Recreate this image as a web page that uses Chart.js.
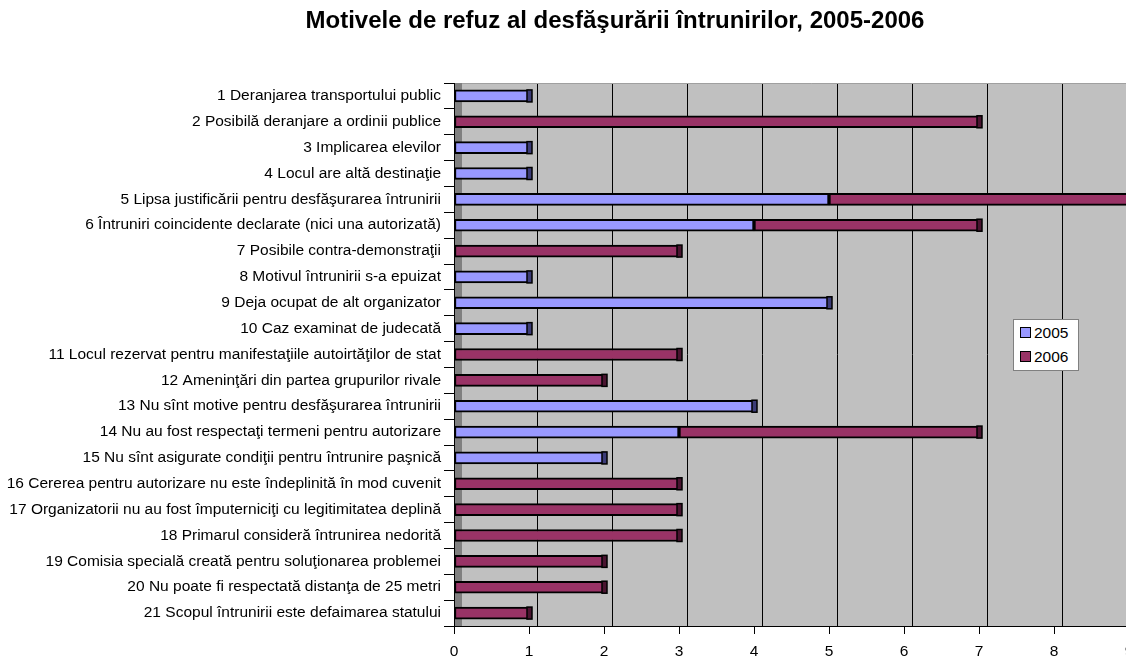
<!DOCTYPE html>
<html>
<head>
<meta charset="utf-8">
<script src="https://cdn.jsdelivr.net/npm/chart.js@4/dist/chart.umd.min.js"></script>
<style>
html,body{margin:0;padding:0;background:#fff;overflow:hidden;width:1126px;height:657px;}
#wrap{position:relative;width:1160px;height:657px;}
#title{position:absolute;left:0;width:1230px;top:6px;text-align:center;font:bold 24px "Liberation Sans",Arial,sans-serif;line-height:28px;color:#000;white-space:nowrap;}
#legend{position:absolute;left:1013px;top:319px;width:64px;height:50px;border:1px solid #808080;background:#fff;font:15.5px "Liberation Sans",Arial,sans-serif;color:#000;}
.item{position:absolute;left:6px;height:18px;line-height:18px;white-space:nowrap;}
.sw{display:inline-block;width:9px;height:9px;border:1px solid #000;vertical-align:middle;margin-right:3px;position:relative;top:-1px;}
canvas{position:absolute;left:0;top:0;}
</style>
</head>
<body>
<div id="wrap">
<canvas id="c" width="1160" height="657"></canvas>
<div id="title">Motivele de refuz al desfăşurării întrunirilor, 2005-2006</div>
<div id="legend"></div>
</div>
<script>
const categories = [
  "1 Deranjarea transportului public",
  "2 Posibilă deranjare a ordinii publice",
  "3 Implicarea elevilor",
  "4 Locul are altă destinaţie",
  "5 Lipsa justificării pentru desfăşurarea întrunirii",
  "6 Întruniri coincidente declarate (nici una autorizată)",
  "7 Posibile contra-demonstraţii",
  "8 Motivul întrunirii s-a epuizat",
  "9 Deja ocupat de alt organizator",
  "10 Caz examinat de judecată",
  "11 Locul rezervat pentru manifestaţiile autoirtăţilor de stat",
  "12 Ameninţări din partea grupurilor rivale",
  "13 Nu sînt motive pentru desfăşurarea întrunirii",
  "14 Nu au fost respectaţi termeni pentru autorizare",
  "15 Nu sînt asigurate condiţii pentru întrunire paşnică",
  "16 Cererea pentru autorizare nu este îndeplinită în mod cuvenit",
  "17 Organizatorii nu au fost împuterniciţi cu legitimitatea deplină",
  "18 Primarul consideră întrunirea nedorită",
  "19 Comisia specială creată pentru soluţionarea problemei",
  "20 Nu poate fi respectată distanţa de 25 metri",
  "21 Scopul întrunirii este defaimarea statului"
];
const seriesNames = ["2005", "2006"];
const values2005 = [1, null, 1, 1, 5, 4, null, 1, 5, 1, null, null, 4, 3, 2, null, null, null, null, null, null];
const values2006 = [null, 7, null, null, 4, 3, 3, null, null, null, 3, 2, null, 4, null, 3, 3, 3, 2, 2, 1];
const xMin = 0, xMax = 9, xStep = 1;

const FILL = ["#9999FF", "#993366"];
const CAP = ["#3C3C78", "#4A1430"];
const FONT = '"Liberation Sans", Arial, sans-serif';
const DEPTH = 8;

const wallPlugin = {
  id: 'wall',
  beforeDraw(chart) {
    const {ctx, chartArea: a, scales: {x}} = chart;
    ctx.save();
    ctx.fillStyle = '#C0C0C0';
    ctx.fillRect(a.left + DEPTH, a.top, a.right - a.left - DEPTH + 40, a.bottom - a.top);
    ctx.fillStyle = '#808080';
    ctx.fillRect(a.left, a.top, DEPTH, a.bottom - a.top);
    ctx.strokeStyle = '#000';
    ctx.lineWidth = 1;
    for (let v = xMin + xStep; v <= xMax; v += xStep) {
      const px = Math.round(x.getPixelForValue(v) + DEPTH) + 0.5;
      ctx.beginPath();
      ctx.moveTo(px, a.top);
      ctx.lineTo(px, a.bottom);
      ctx.stroke();
    }
    ctx.strokeStyle = '#A0A0A0';
    ctx.beginPath();
    ctx.moveTo(a.left + DEPTH, a.top + 0.5);
    ctx.lineTo(a.right + 40, a.top + 0.5);
    ctx.stroke();
    ctx.restore();
  }
};

const capPlugin = {
  id: 'caps',
  afterDatasetsDraw(chart) {
    const ctx = chart.ctx;
    ctx.save();
    const n = categories.length;
    for (let i = 0; i < n; i++) {
      let last = -1;
      chart.data.datasets.forEach((ds, d) => { if (ds.data[i] != null) last = d; });
      if (last < 0) continue;
      const el = chart.getDatasetMeta(last).data[i];
      const h = el.height;
      ctx.fillStyle = CAP[last];
      ctx.fillRect(el.x - 2, el.y - h / 2, 5, h);
      ctx.strokeStyle = '#000';
      ctx.lineWidth = 1.5;
      ctx.strokeRect(el.x - 2, el.y - h / 2, 5, h);
    }
    ctx.restore();
  }
};

const chart = new Chart(document.getElementById('c'), {
  type: 'bar',
  data: {
    labels: categories,
    datasets: [
      {label: seriesNames[0], data: values2005, backgroundColor: FILL[0], borderColor: '#000', borderWidth: 2, barThickness: 12, borderSkipped: false},
      {label: seriesNames[1], data: values2006, backgroundColor: FILL[1], borderColor: '#000', borderWidth: 2, barThickness: 12, borderSkipped: false}
    ]
  },
  options: {
    indexAxis: 'y',
    responsive: false,
    animation: false,
    devicePixelRatio: 1,
    layout: {padding: {top: 83, right: 31, left: 0, bottom: 0}},
    plugins: {legend: {display: false}, title: {display: false}, tooltip: {enabled: false}},
    scales: {
      x: {
        stacked: true,
        min: xMin, max: xMax,
        ticks: {stepSize: xStep, color: '#000', font: {family: FONT, size: 15.5}, padding: 8, maxRotation: 0},
        grid: {drawOnChartArea: false, color: '#000', tickLength: 8},
        border: {color: '#000', width: 1},
        afterFit(s) { s.height = 31; }
      },
      y: {
        stacked: true,
        ticks: {color: '#000', font: {family: FONT, size: 15.5}, padding: 3, autoSkip: false},
        grid: {drawOnChartArea: false, offset: true, color: '#000', tickLength: 10},
        border: {color: '#000', width: 1},
        afterFit(s) { s.width = 454; }
      }
    }
  },
  plugins: [wallPlugin, capPlugin]
});

const lg = document.getElementById('legend');
seriesNames.forEach((name, i) => {
  const d = document.createElement('div');
  d.className = 'item';
  d.style.top = (4 + i * 24) + 'px';
  d.innerHTML = '<span class="sw" style="background:' + FILL[i] + '"></span>' + name;
  lg.appendChild(d);
});
</script>
</body>
</html>
